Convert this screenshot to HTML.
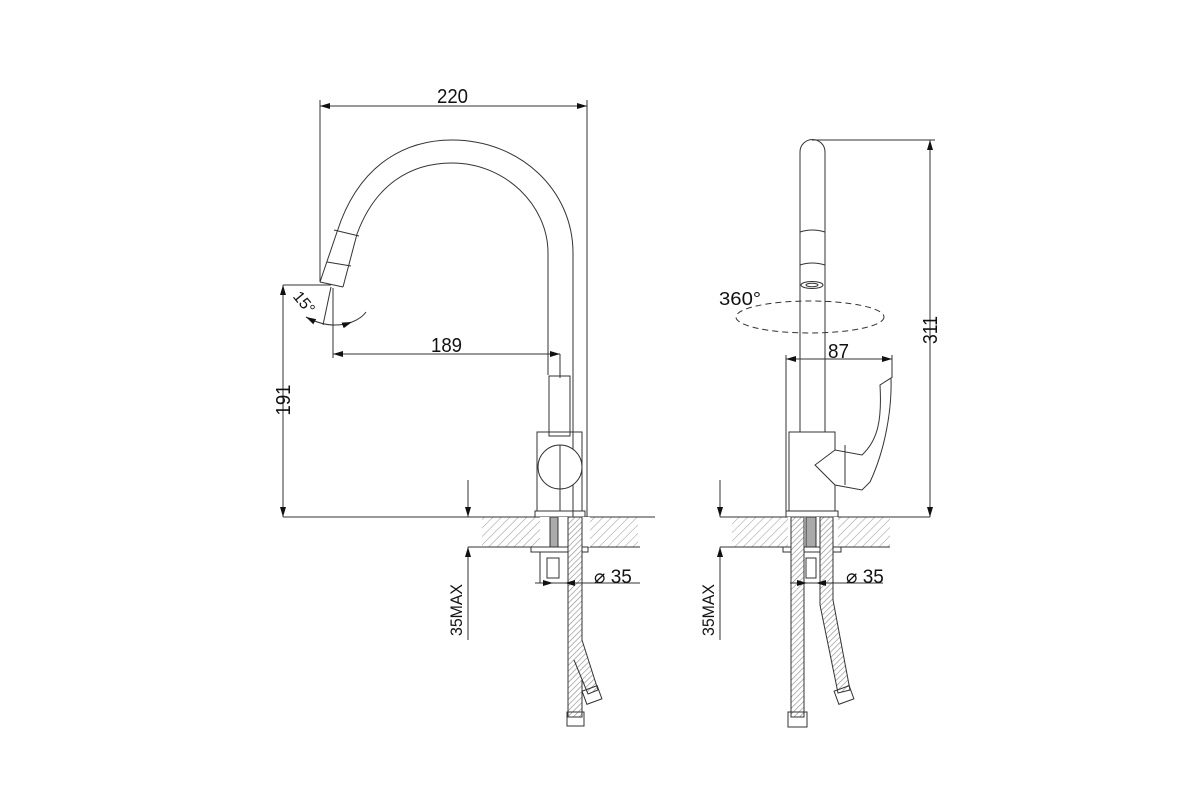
<!DOCTYPE html>
<html><head><meta charset="utf-8"><style>
html,body{margin:0;padding:0;background:#fff;}
svg{display:block}
text{font-family:"Liberation Sans",sans-serif;fill:#111;}
</style></head><body>
<svg width="1200" height="800" viewBox="0 0 1200 800" xmlns="http://www.w3.org/2000/svg">
<defs>
<pattern id="h" width="6" height="6" patternUnits="userSpaceOnUse" patternTransform="rotate(45)">
<line x1="0" y1="0" x2="0" y2="6" stroke="#999" stroke-width="1"/>
</pattern>
<pattern id="br" width="4" height="4" patternUnits="userSpaceOnUse" patternTransform="rotate(45)">
<rect width="4" height="4" fill="#fff"/><line x1="0" y1="0" x2="0" y2="4" stroke="#888" stroke-width="1.2"/>
</pattern>
<marker id="a" viewBox="0 0 10 6" refX="10" refY="3" markerWidth="10" markerHeight="6" orient="auto-start-reverse" markerUnits="userSpaceOnUse">
<path d="M0,0 L10,3 L0,6 z" fill="#111"/>
</marker>
</defs>
<g fill="none" stroke="#333" stroke-width="1">

<!-- ===== LEFT VIEW ===== -->
<line x1="320" y1="106" x2="587" y2="106" marker-start="url(#a)" marker-end="url(#a)"/>
<line x1="320" y1="100" x2="320" y2="282"/>
<line x1="587" y1="100" x2="587" y2="517"/>
<path d="M320,282 L337,232 C360,160 410,140 452,140 C520,140 573,190 573,253 L573,517"/>
<path d="M343,287 L357,234 C375,185 410,163 452,163 C505,163 548,205 548,253 L548,375"/>
<line x1="320" y1="282" x2="343" y2="287"/>
<line x1="334" y1="230" x2="359" y2="236"/>
<line x1="327" y1="262" x2="351" y2="266"/>
<line x1="283" y1="285" x2="331" y2="285"/>
<line x1="331" y1="287" x2="323" y2="325"/>
<path d="M306,317 Q330,330 352,322" marker-start="url(#a)" marker-end="url(#a)"/>
<path d="M352,322 Q362,318 366,312"/>
<line x1="283" y1="285" x2="283" y2="517" marker-start="url(#a)" marker-end="url(#a)"/>
<line x1="333" y1="288" x2="333" y2="358"/>
<line x1="333" y1="354" x2="560" y2="354" marker-start="url(#a)" marker-end="url(#a)"/>
<line x1="560" y1="354" x2="560" y2="378"/>
<rect x="549" y="376" width="21" height="60"/>
<rect x="537" y="432" width="45" height="79"/>
<circle cx="560" cy="467" r="22" fill="#fff"/>
<line x1="560" y1="445" x2="560" y2="511"/>
<rect x="535" y="511" width="50" height="6"/>
<rect x="482" y="517" width="156" height="30" fill="url(#h)" stroke="none"/>
<line x1="283" y1="517" x2="655" y2="517"/>
<line x1="468" y1="547" x2="640" y2="547"/>
<line x1="468" y1="480" x2="468" y2="517" marker-end="url(#a)"/>
<line x1="468" y1="640" x2="468" y2="547" marker-end="url(#a)"/>
<rect x="540" y="517" width="50" height="30" fill="#fff" stroke="none"/>
<rect x="531" y="547" width="57" height="5" fill="#fff"/>
<rect x="550" y="517" width="8" height="30" fill="#aaa"/>
<rect x="547" y="558" width="12" height="20"/>
<line x1="540" y1="552" x2="540" y2="583"/>
<rect x="568" y="517" width="14" height="200" fill="url(#br)"/>
<path d="M582,640 L598,690 L588,694 L574,660" fill="url(#br)"/>
<rect x="584" y="688" width="16" height="14" transform="rotate(-20 592 695)"/>
<rect x="567" y="712" width="17" height="14"/>
<line x1="540" y1="583" x2="640" y2="583"/>
<line x1="535" y1="583" x2="553" y2="583" marker-end="url(#a)"/>
<line x1="585" y1="583" x2="565" y2="583" marker-end="url(#a)"/>

<!-- ===== RIGHT VIEW ===== -->
<path d="M800,432 L800,152 A12.5,12.5 0 0 1 825,152 L825,432"/>
<path d="M800,232 Q812,228 825,232"/>
<path d="M800,265 Q812,261 825,265"/>
<ellipse cx="812" cy="285" rx="11" ry="3.5"/>
<ellipse cx="812" cy="285" rx="6" ry="1.8"/>
<ellipse cx="810" cy="317" rx="74" ry="16" stroke-dasharray="6,4"/>
<line x1="812" y1="140" x2="935" y2="140"/>
<line x1="930" y1="140" x2="930" y2="517" marker-start="url(#a)" marker-end="url(#a)"/>
<line x1="786" y1="359" x2="892" y2="359" marker-start="url(#a)" marker-end="url(#a)"/>
<line x1="786" y1="355" x2="786" y2="517"/>
<line x1="892" y1="355" x2="892" y2="378"/>
<rect x="789" y="432" width="46" height="79"/>
<path d="M835,450 L815,465 L835,485 L862,490 L870,482 C885,450 892,410 891,378 L880,385 C882,420 878,440 862,455 Z" fill="#fff"/>
<line x1="845" y1="445" x2="845" y2="485"/>
<rect x="786" y="511" width="52" height="6"/>
<rect x="732" y="517" width="158" height="30" fill="url(#h)" stroke="none"/>
<line x1="720" y1="517" x2="930" y2="517"/>
<line x1="720" y1="547" x2="890" y2="547"/>
<line x1="720" y1="480" x2="720" y2="517" marker-end="url(#a)"/>
<line x1="720" y1="640" x2="720" y2="547" marker-end="url(#a)"/>
<rect x="788" y="517" width="50" height="30" fill="#fff" stroke="none"/>
<rect x="783" y="547" width="58" height="5" fill="#fff"/>
<rect x="791" y="517" width="13" height="200" fill="url(#br)"/>
<rect x="806" y="517" width="10" height="30" fill="#aaa"/>
<rect x="806" y="558" width="10" height="20"/>
<path d="M820,517 L833,517 L833,600 L850,690 L838,693 L820,605 Z" fill="url(#br)"/>
<rect x="836" y="688" width="16" height="14" transform="rotate(-20 844 695)"/>
<rect x="788" y="712" width="19" height="15"/>
<line x1="790" y1="583" x2="883" y2="583"/>
<line x1="790" y1="583" x2="807" y2="583" marker-end="url(#a)"/>
<line x1="832" y1="583" x2="816" y2="583" marker-end="url(#a)"/>
</g>

<g font-size="20">
<text x="437" y="103" textLength="31" lengthAdjust="spacingAndGlyphs">220</text>
<text x="431" y="352" textLength="31" lengthAdjust="spacingAndGlyphs">189</text>
<text transform="translate(290,400) rotate(-90)" text-anchor="middle" textLength="31" lengthAdjust="spacingAndGlyphs">191</text>
<text transform="translate(300,306) rotate(50)" text-anchor="middle" font-size="16">15°</text>
<text transform="translate(462,610) rotate(-90)" text-anchor="middle" font-size="17" textLength="52" lengthAdjust="spacingAndGlyphs">35MAX</text>
<text x="594" y="583" font-size="19">⌀ 35</text>
<text x="828" y="358" textLength="21" lengthAdjust="spacingAndGlyphs">87</text>
<text x="719" y="305" font-size="18" textLength="42" lengthAdjust="spacingAndGlyphs">360°</text>
<text transform="translate(937,330) rotate(-90)" text-anchor="middle" textLength="28" lengthAdjust="spacingAndGlyphs">311</text>
<text transform="translate(714,610) rotate(-90)" text-anchor="middle" font-size="17" textLength="52" lengthAdjust="spacingAndGlyphs">35MAX</text>
<text x="846" y="583" font-size="19">⌀ 35</text>
</g>
</svg>
</body></html>
